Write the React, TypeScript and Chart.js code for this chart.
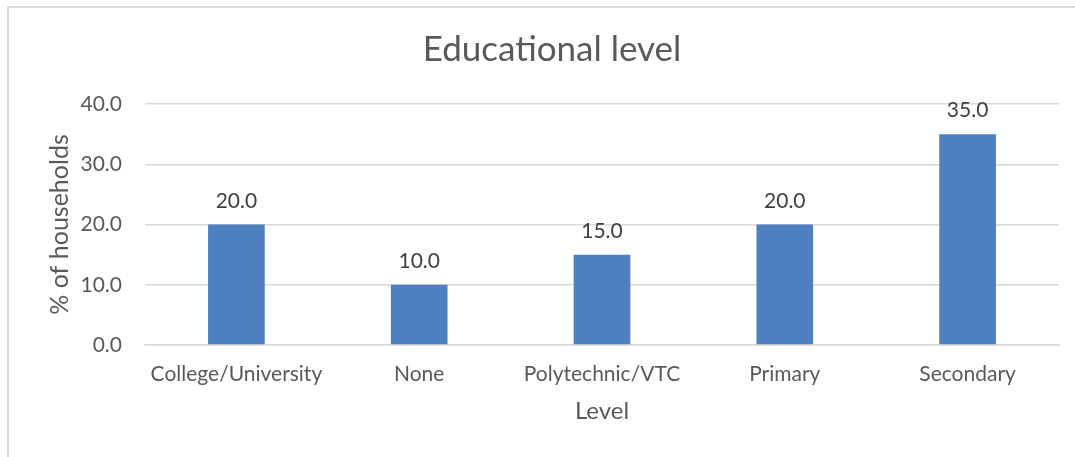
import React, { useEffect, useRef } from "react";
import { Chart, registerables } from "chart.js";

Chart.register(...registerables);

const categories = ["College/University", "None", "Polytechnic/VTC", "Primary", "Secondary"];
const values = [20.0, 10.0, 15.0, 20.0, 35.0];
const yTicks = [0, 10, 20, 30, 40];

const FONT = "Lato, 'Open Sans', sans-serif";
const TEXT = "#595959";

const dataLabels = {
  id: "dataLabels",
  afterDatasetsDraw(chart: any) {
    const ctx = chart.ctx;
    const meta = chart.getDatasetMeta(0);
    ctx.save();
    ctx.font = `21px ${FONT}`;
    ctx.fillStyle = "#404040";
    ctx.textAlign = "center";
    ctx.textBaseline = "alphabetic";
    meta.data.forEach((bar: any, i: number) => {
      ctx.fillText(values[i].toFixed(1), bar.x, bar.y - 17);
    });
    ctx.restore();
  },
};

export default function App() {
  const ref = useRef<HTMLCanvasElement>(null);
  useEffect(() => {
    document.body.style.margin = "0";
    const chart = new Chart(ref.current!, {
      type: "bar",
      data: {
        labels: categories,
        datasets: [
          {
            data: values,
            backgroundColor: "#4E80BF",
            categoryPercentage: 0.31,
            barPercentage: 1,
          },
        ],
      },
      plugins: [dataLabels],
      options: {
        animation: false,
        responsive: false,
        maintainAspectRatio: false,
        layout: { padding: { top: 29, left: 45, right: 16, bottom: 31 } },
        plugins: {
          legend: { display: false },
          tooltip: { enabled: false },
          title: {
            display: true,
            text: "Educational level",
            color: TEXT,
            font: { family: FONT, size: 35, weight: "normal" },
            padding: { top: 0, bottom: 33 },
          },
        },
        scales: {
          x: {
            afterFit(axis: any) {
              axis.height = 81;
              axis.paddingLeft = 0;
              axis.paddingRight = 0;
            },
            grid: { display: false, drawTicks: false },
            border: { color: "#d9d9d9", width: 1.5 },
            ticks: {
              color: TEXT,
              font: { family: FONT, size: 21 },
              padding: 17,
              maxRotation: 0,
            },
            title: {
              display: true,
              text: "Level",
              color: TEXT,
              font: { family: FONT, size: 24 },
              padding: { top: 10, bottom: 0 },
            },
          },
          y: {
            min: 0,
            max: 40,
            afterBuildTicks(axis: any) {
              axis.ticks = yTicks.map((v) => ({ value: v }));
            },
            afterFit(axis: any) {
              axis.width = 100;
            },
            grid: { color: "#d9d9d9", lineWidth: 1.5, drawTicks: false },
            border: { display: false },
            ticks: {
              color: TEXT,
              font: { family: FONT, size: 21 },
              padding: 23,
              callback: (v: any) => Number(v).toFixed(1),
            },
            title: {
              display: true,
              text: "% of households",
              color: TEXT,
              font: { family: FONT, size: 25 },
              padding: { top: 0, bottom: 5 },
            },
          },
        },
      },
    });
    return () => chart.destroy();
  }, []);

  return (
    <div style={{ position: "fixed", left: 0, top: 0, width: 1075, height: 457, overflow: "hidden", background: "#fff" }}>
      <div
        style={{
          position: "absolute",
          left: 7,
          top: 6,
          width: 1100,
          height: 480,
          border: "2px solid #d9d9d9",
          boxSizing: "border-box",
        }}
      />
      <canvas ref={ref} width={1075} height={457} style={{ position: "absolute", left: 0, top: 0, display: "block" }} />
    </div>
  );
}
